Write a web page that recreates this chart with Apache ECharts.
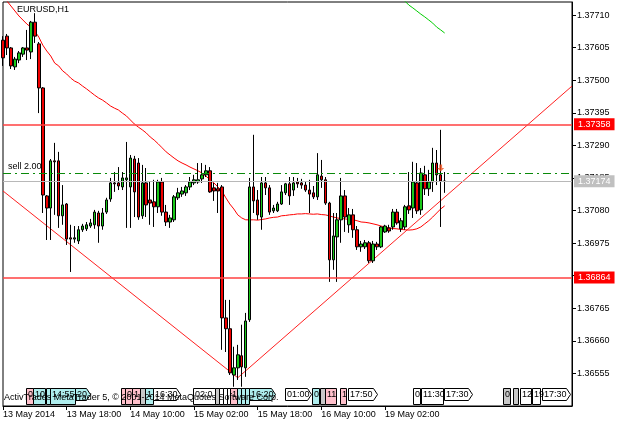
<!DOCTYPE html>
<html>
<head>
<meta charset="utf-8">
<title>EURUSD,H1</title>
<script src="https://cdn.jsdelivr.net/npm/echarts@6/dist/echarts.min.js"></script>
<style>
  html, body { margin: 0; padding: 0; background: #fff; }
  #chart { width: 625px; height: 426px; }
</style>
</head>
<body>
<div id="chart"></div>
<script>
// EURUSD H1 bars, first bar 13 May 2014 02:00
const opens = [
  1.37629, 1.37642, 1.37604, 1.37543, 1.37565, 1.37584, 1.37604, 1.37591, 1.37687, 1.37617,
  1.37475, 1.37127, 1.37088, 1.37240, 1.37240, 1.37063, 1.37101, 1.36992, 1.36988, 1.36982,
  1.37018, 1.37021, 1.37030, 1.37034, 1.37072, 1.37030, 1.37075, 1.37117, 1.37169, 1.37169,
  1.37156, 1.37179, 1.37156, 1.37246, 1.37233, 1.37063, 1.37169, 1.37114, 1.37108, 1.37092,
  1.37172, 1.37075, 1.37043, 1.37050, 1.37121, 1.37133, 1.37137, 1.37156, 1.37169, 1.37172,
  1.37182, 1.37195, 1.37208, 1.37153, 1.37150, 1.37156, 1.36734, 1.36699, 1.36550, 1.36573,
  1.36612, 1.36573, 1.36728, 1.37156, 1.37114, 1.37059, 1.37169, 1.37153, 1.37079, 1.37079,
  1.37101, 1.37137, 1.37166, 1.37146, 1.37172, 1.37169, 1.37162, 1.37146, 1.37137, 1.37124,
  1.37191, 1.37179, 1.37104, 1.36921, 1.36995, 1.37050, 1.37127, 1.37034, 1.37066, 1.37018,
  1.36963, 1.36963, 1.36976, 1.36918, 1.36972, 1.36963, 1.37011, 1.37024, 1.37027, 1.37075,
  1.37021, 1.37027, 1.37095, 1.37088, 1.37169, 1.37082, 1.37195, 1.37150, 1.37172, 1.37233,
  1.37195, 1.37175
];
const closes = [
  1.37572, 1.37604, 1.37546, 1.37568, 1.37588, 1.37604, 1.37597, 1.37687, 1.37642, 1.37475,
  1.37130, 1.37088, 1.37240, 1.37237, 1.37063, 1.37098, 1.36988, 1.36988, 1.36992, 1.37018,
  1.37030, 1.37034, 1.37040, 1.37075, 1.37030, 1.37072, 1.37114, 1.37169, 1.37166, 1.37159,
  1.37185, 1.37185, 1.37249, 1.37140, 1.37059, 1.37169, 1.37098, 1.37104, 1.37092, 1.37172,
  1.37075, 1.37043, 1.37056, 1.37124, 1.37137, 1.37143, 1.37156, 1.37172, 1.37179, 1.37179,
  1.37195, 1.37208, 1.37140, 1.37143, 1.37143, 1.36734, 1.36699, 1.36557, 1.36573, 1.36615,
  1.36576, 1.36724, 1.37156, 1.37111, 1.37066, 1.37169, 1.37153, 1.37075, 1.37088, 1.37101,
  1.37140, 1.37166, 1.37127, 1.37169, 1.37166, 1.37162, 1.37146, 1.37133, 1.37124, 1.37195,
  1.37179, 1.37104, 1.36921, 1.36998, 1.37050, 1.37127, 1.37059, 1.37066, 1.37018, 1.36963,
  1.36972, 1.36976, 1.36918, 1.36972, 1.36963, 1.37027, 1.37030, 1.37014, 1.37075, 1.37040,
  1.37047, 1.37092, 1.37082, 1.37172, 1.37079, 1.37201, 1.37150, 1.37172, 1.37233, 1.37195,
  1.37175, 1.37174
];
const lows = [
  1.37546, 1.37581, 1.37536, 1.37533, 1.37555, 1.37575, 1.37565, 1.37568, 1.37620, 1.37394,
  1.37072, 1.36985, 1.36985, 1.37066, 1.37024, 1.37034, 1.36969, 1.36882, 1.36976, 1.36972,
  1.37011, 1.37014, 1.37024, 1.37021, 1.36976, 1.37018, 1.37069, 1.37108, 1.37140, 1.37146,
  1.37146, 1.37024, 1.37024, 1.37059, 1.37050, 1.37053, 1.37059, 1.37034, 1.37027, 1.37072,
  1.37063, 1.37030, 1.37024, 1.37043, 1.37114, 1.37124, 1.37127, 1.37146, 1.37162, 1.37166,
  1.37169, 1.37188, 1.37137, 1.37111, 1.37072, 1.36631, 1.36624, 1.36550, 1.36512, 1.36534,
  1.36512, 1.36544, 1.36721, 1.37072, 1.37050, 1.37018, 1.37130, 1.37066, 1.37072, 1.37075,
  1.37098, 1.37130, 1.37098, 1.37127, 1.37153, 1.37150, 1.37140, 1.37072, 1.37117, 1.37114,
  1.37153, 1.37098, 1.36850, 1.36889, 1.36850, 1.36976, 1.37011, 1.37008, 1.36992, 1.36953,
  1.36947, 1.36956, 1.36911, 1.36911, 1.36953, 1.36959, 1.37008, 1.37008, 1.37018, 1.37034,
  1.37011, 1.37018, 1.37069, 1.37056, 1.37069, 1.37066, 1.37130, 1.37127, 1.37140, 1.37162,
  1.37027, 1.37137
];
const highs = [
  1.37642, 1.37649, 1.37607, 1.37575, 1.37594, 1.37607, 1.37662, 1.37691, 1.37716, 1.37623,
  1.37478, 1.37130, 1.37246, 1.37298, 1.37269, 1.37162, 1.37104, 1.37034, 1.37030, 1.37030,
  1.37037, 1.37043, 1.37053, 1.37082, 1.37079, 1.37088, 1.37121, 1.37185, 1.37204, 1.37220,
  1.37204, 1.37301, 1.37259, 1.37256, 1.37249, 1.37227, 1.37217, 1.37172, 1.37179, 1.37179,
  1.37185, 1.37098, 1.37066, 1.37130, 1.37153, 1.37156, 1.37162, 1.37188, 1.37195, 1.37233,
  1.37233, 1.37227, 1.37220, 1.37169, 1.37169, 1.37162, 1.36792, 1.36792, 1.36641, 1.36647,
  1.36712, 1.36750, 1.37185, 1.37324, 1.37146, 1.37188, 1.37188, 1.37162, 1.37098, 1.37108,
  1.37162, 1.37169, 1.37188, 1.37188, 1.37185, 1.37182, 1.37172, 1.37179, 1.37159, 1.37265,
  1.37243, 1.37188, 1.37108, 1.37072, 1.37072, 1.37185, 1.37146, 1.37088, 1.37085, 1.37030,
  1.36982, 1.36985, 1.36982, 1.36982, 1.36979, 1.37030, 1.37034, 1.37034, 1.37085, 1.37085,
  1.37056, 1.37098, 1.37204, 1.37237, 1.37233, 1.37217, 1.37224, 1.37211, 1.37282, 1.37275,
  1.37340, 1.37204
];

// red moving average, one value per bar
const maRed = [
  1.37771, 1.37755, 1.37739, 1.37723, 1.37707, 1.37694, 1.37681, 1.37671, 1.37658, 1.37639,
  1.37613, 1.37594, 1.37578, 1.37555, 1.37546, 1.37530, 1.37520, 1.37507, 1.37497, 1.37491,
  1.37481, 1.37472, 1.37462, 1.37452, 1.37443, 1.37436, 1.37427, 1.37417, 1.37410, 1.37404,
  1.37394, 1.37385, 1.37372, 1.37359, 1.37349, 1.37340, 1.37330, 1.37317, 1.37307, 1.37295,
  1.37282, 1.37269, 1.37259, 1.37249, 1.37240, 1.37233, 1.37227, 1.37220, 1.37214, 1.37208,
  1.37201, 1.37191, 1.37179, 1.37169, 1.37156, 1.37143, 1.37121, 1.37101, 1.37085, 1.37066,
  1.37056, 1.37050, 1.37050, 1.37050, 1.37049, 1.37051, 1.37053, 1.37056, 1.37058, 1.37059,
  1.37063, 1.37064, 1.37066, 1.37067, 1.37069, 1.37069, 1.37070, 1.37069, 1.37068, 1.37069,
  1.37067, 1.37066, 1.37063, 1.37059, 1.37056, 1.37054, 1.37053, 1.37051, 1.37050, 1.37047,
  1.37043, 1.37042, 1.37040, 1.37037, 1.37034, 1.37030, 1.37027, 1.37024, 1.37022, 1.37021,
  1.37019, 1.37018, 1.37017, 1.37018, 1.37021, 1.37027, 1.37037, 1.37047, 1.37059, 1.37072,
  1.37085, 1.37095
];
// green line, only its tail is inside the window (bars 100..111)
const maGreenStart = 100;
const maGreen = [
  1.37764, 1.37755, 1.37742, 1.37733, 1.37723, 1.37713, 1.37704, 1.37694, 1.37684, 1.37671,
  1.37662, 1.37652
];

// trend lines as [bar, price]
const trendDown = [[0, 1.37143], [59, 1.36541]];
const trendUp = [[59, 1.36541], [143, 1.37481]];

// horizontal levels
const levels = [1.37358, 1.36864];
const bidPrice = 1.37174;
const sellPrice = 1.37201;
const sellArrow = [[110, 1.37217]];

const tickLabels = ['13 May 2014', '13 May 18:00', '14 May 10:00', '15 May 02:00',
  '15 May 18:00', '16 May 10:00', '19 May 02:00'];
const totalBars = 144;

// hourly slots, weekend skipped
const months = ['Jan', 'Feb', 'Mar', 'Apr', 'May', 'Jun', 'Jul', 'Aug', 'Sep', 'Oct', 'Nov', 'Dec'];
const categories = [];
let t = Date.UTC(2014, 4, 13, 2);
while (categories.length < totalBars) {
  const d = new Date(t);
  const dow = d.getUTCDay();
  if (dow !== 0 && dow !== 6) {
    const hh = String(d.getUTCHours()).padStart(2, '0');
    categories.push(d.getUTCDate() + ' ' + months[d.getUTCMonth()] + ' ' + hh + ':00');
  }
  t += 3600 * 1000;
}

const candles = opens.map((o, i) => [o, closes[i], lows[i], highs[i]]);
const greenData = categories.map((c, i) =>
  i >= maGreenStart && i < maGreenStart + maGreen.length ? maGreen[i - maGreenStart] : null);

const FONT = 'Liberation Sans, Arial, sans-serif';
const showTick = (i) => i % 16 === 0 && i < opens.length;

// trade history tags along the bottom: [x, width, text, fill, arrow]
const PINK = '#ffc0cb', CYAN = '#afeeee', GREY = '#c8c8c8', WHITE = '#ffffff';
const tags = [
  [26, 7, '0', PINK], [33, 12, '10', CYAN], [46, 4, '', CYAN], [50, 25, '14:55', CYAN],
  [75, 15, '20', CYAN, true], [121, 4, '', PINK], [125, 7, '0', PINK], [132, 8, '1', PINK],
  [140, 5, '', GREY], [145, 8, '1', CYAN], [153, 27, '16:30', WHITE, true],
  [193, 22, '02:0', WHITE], [215, 4, '', GREY], [219, 4, '', WHITE], [223, 4, '', WHITE],
  [227, 3, '', WHITE], [230, 7, '1', PINK], [237, 4, '', CYAN], [241, 4, '', CYAN],
  [245, 4, '', CYAN], [249, 26, '16:20', CYAN, true], [285, 26, '01:00', WHITE, true],
  [312, 7, '0', CYAN], [320, 5, '', GREY], [325, 11, '11', PINK], [340, 6, '1', PINK],
  [348, 29, '17:50', WHITE, true], [413, 7, '0', WHITE], [421, 22, '11:30', WHITE],
  [444, 28, '17:30', WHITE, true], [503, 7, '0', GREY], [513, 5, '', GREY],
  [520, 11, '12', WHITE], [532, 8, '19', WHITE], [542, 28, '17:30', WHITE, true]
];
const tagGraphics = [];
tags.forEach(([x, w, txt, fill, arrow]) => {
  const y0 = 388.5, h = arrow ? 12 : 16;
  const x0 = x + 0.5;
  const pts = arrow
    ? [[x0, y0], [x0 + w - 4, y0], [x0 + w, y0 + h / 2], [x0 + w - 4, y0 + h], [x0, y0 + h]]
    : [[x0, y0], [x0 + w, y0], [x0 + w, y0 + h], [x0, y0 + h]];
  tagGraphics.push({
    type: 'polygon', shape: { points: pts },
    style: { fill: fill, stroke: '#000', lineWidth: 1 }, z: 10
  });
  if (txt) {
    tagGraphics.push({
      type: 'text', x: x + 2, y: 394.5, z: 11,
      style: { text: txt, fill: '#000', font: '9px ' + FONT, verticalAlign: 'middle' }
    });
  }
});

const boxLabel = (p, bg) => ({
  show: true, position: 'end', distance: 2,
  formatter: p.toFixed(5), color: '#fff', backgroundColor: bg,
  padding: [2, 4, 1, 4], fontSize: 9, fontFamily: FONT
});

const chart = echarts.init(document.getElementById('chart'), null, { renderer: 'canvas' });

const option = {
  animation: false,
  backgroundColor: '#fff',
  textStyle: { fontFamily: FONT },
  grid: {
    left: 2, right: 53, top: 2, bottom: 20,
    show: true, borderColor: '#000', borderWidth: 1, backgroundColor: '#fff'
  },
  xAxis: {
    type: 'category',
    data: categories,
    boundaryGap: false,
    axisLine: { show: true, lineStyle: { color: '#000', width: 1 } },
    axisTick: { show: true, interval: showTick, length: 4, lineStyle: { color: '#000' } },
    axisLabel: {
      interval: showTick,
      formatter: (v, i) => tickLabels[i / 16] || '',
      align: 'left', margin: 4, fontSize: 9, color: '#000', fontFamily: FONT
    },
    splitLine: { show: false }
  },
  yAxis: {
    type: 'value',
    position: 'right',
    min: 1.36450,
    max: 1.37752,
    interval: 0.00105,
    axisLine: { show: true, lineStyle: { color: '#000', width: 1 } },
    axisTick: { show: true, length: 4, lineStyle: { color: '#000' } },
    axisLabel: {
      showMinLabel: false, showMaxLabel: false,
      formatter: (v) => v.toFixed(5),
      margin: 5, fontSize: 9, color: '#000', fontFamily: FONT
    },
    splitLine: { show: false }
  },
  graphic: [
    {
      type: 'text', x: 17, y: 9.5, z: 20,
      style: { text: 'EURUSD,H1', fill: '#000', font: '9px ' + FONT, verticalAlign: 'middle' }
    },
    ...tagGraphics,
    {
      type: 'text', x: 4, y: 397.5, z: 12,
      style: {
        text: 'ActivTrades MetaTrader 5, \u00a9 2001-2014 MetaQuotes Software Corp.',
        fill: '#000', font: '9px ' + FONT, verticalAlign: 'middle'
      }
    }
  ],
  series: [
    {
      name: 'MA red',
      type: 'line',
      data: maRed,
      symbol: 'none',
      clip: true,
      lineStyle: { color: '#ff0000', width: 1 },
      z: 3
    },
    {
      name: 'MA green',
      type: 'line',
      data: greenData,
      symbol: 'none',
      clip: true,
      lineStyle: { color: '#00cc00', width: 1 },
      z: 3
    },
    {
      name: 'trend down',
      type: 'line',
      data: trendDown,
      symbol: 'none',
      clip: true,
      lineStyle: { color: '#ff2020', width: 1 },
      z: 3
    },
    {
      name: 'trend up',
      type: 'line',
      data: trendUp,
      symbol: 'none',
      clip: true,
      lineStyle: { color: '#ff2020', width: 1 },
      z: 3
    },
    {
      name: 'EURUSD',
      type: 'candlestick',
      data: candles,
      barWidth: 3,
      clip: true,
      z: 4,
      itemStyle: {
        color: '#19c819',
        color0: '#f00000',
        borderColor: '#000',
        borderColor0: '#000',
        borderColorDoji: '#000',
        borderWidth: 1
      },
      markLine: {
        silent: true,
        symbol: ['none', 'none'],
        precision: 5,
        z: 20,
        data: [
          ...levels.map((p) => ({
            yAxis: p,
            lineStyle: { color: '#ff4040', width: 1.5, type: 'solid' },
            label: boxLabel(p, '#ff0000')
          })),
          {
            yAxis: bidPrice,
            lineStyle: { color: '#b8b8b8', width: 1, type: 'solid' },
            label: boxLabel(bidPrice, '#c0c0c0')
          },
          {
            yAxis: sellPrice,
            lineStyle: { color: '#0a8a0a', width: 1.2, type: [8, 4, 2, 4] },
            label: {
              show: true, position: 'insideStartTop', distance: [5, 2],
              formatter: 'sell 2.00', color: '#000', fontSize: 9, fontFamily: FONT
            }
          }
        ]
      }
    },
    {
      name: 'sell',
      type: 'scatter',
      data: sellArrow,
      symbol: 'path://M3,0 L7,0 L7,5 L10,5 L5,10 L0,5 L3,5 Z',
      symbolSize: [7, 7],
      itemStyle: { color: '#f0501e' },
      z: 6
    }
  ]
};

chart.setOption(option);
</script>
</body>
</html>
